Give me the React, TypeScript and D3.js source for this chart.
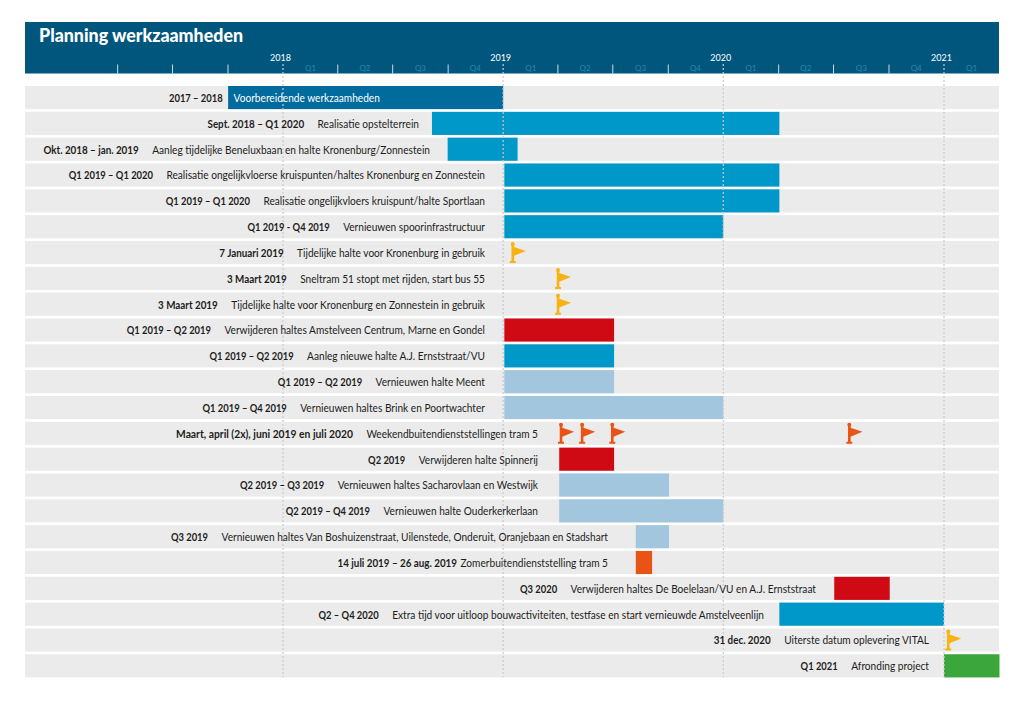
import React, { useRef, useEffect } from 'react';
import * as d3 from 'd3';

const WIDTH = 1023;
const HEIGHT = 704;
const FONT = "Lato, 'Noto Sans', sans-serif";

const title = 'Planning werkzaamheden';

const periods = [
  '2017 – 2018', 'Sept. 2018 – Q1 2020', 'Okt. 2018 – jan. 2019', 'Q1 2019 – Q1 2020', 'Q1 2019 – Q1 2020',
  'Q1 2019 - Q4 2019', '7 Januari 2019', '3 Maart 2019', '3 Maart 2019', 'Q1 2019 – Q2 2019',
  'Q1 2019 – Q2 2019', 'Q1 2019 – Q2 2019', 'Q1 2019 – Q4 2019', 'Maart, april (2x), juni 2019 en juli 2020', 'Q2 2019',
  'Q2 2019 – Q3 2019', 'Q2 2019 – Q4 2019', 'Q3 2019', '14 juli 2019 – 26 aug. 2019', 'Q3 2020',
  'Q2 – Q4 2020', '31 dec. 2020', 'Q1 2021',
];

const tasks = [
  'Voorbereidende werkzaamheden', 'Realisatie opstelterrein', 'Aanleg tijdelijke Beneluxbaan en halte Kronenburg/Zonnestein',
  'Realisatie ongelijkvloerse kruispunten/haltes Kronenburg en Zonnestein', 'Realisatie ongelijkvloers kruispunt/halte Sportlaan',
  'Vernieuwen spoorinfrastructuur', 'Tijdelijke halte voor Kronenburg in gebruik', 'Sneltram 51 stopt met rijden, start bus 55',
  'Tijdelijke halte voor Kronenburg en Zonnestein in gebruik', 'Verwijderen haltes Amstelveen Centrum, Marne en Gondel',
  'Aanleg nieuwe halte A.J. Ernststraat/VU', 'Vernieuwen halte Meent', 'Vernieuwen haltes Brink en Poortwachter',
  'Weekendbuitendienststellingen tram 5', 'Verwijderen halte Spinnerij', 'Vernieuwen haltes Sacharovlaan en Westwijk',
  'Vernieuwen halte Ouderkerkerlaan', 'Vernieuwen haltes Van Boshuizenstraat, Uilenstede, Onderuit, Oranjebaan en Stadshart',
  'Zomerbuitendienststelling tram 5', 'Verwijderen haltes De Boelelaan/VU en A.J. Ernststraat',
  'Extra tijd voor uitloop bouwactiviteiten, testfase en start vernieuwde Amstelveenlijn', 'Uiterste datum oplevering VITAL', 'Afronding project',
];

// right edge of the task text in each row, px
const taskEnds = [0, 419, 430, 485, 485, 485, 485, 485, 485, 485, 485, 485, 485, 538, 538, 538, 538, 608, 608, 816, 764, 929, 929];

// [row, start, end, colour kind]
const bars: [number, string, string, string][] = [
  [0, '2017-10-02', '2019-01-01', 'dark'],
  [1, '2018-09-05', '2020-04-03', 'blue'],
  [2, '2018-10-01', '2019-01-25', 'blue'],
  [3, '2019-01-03', '2020-04-03', 'blue'],
  [4, '2019-01-03', '2020-04-03', 'blue'],
  [5, '2019-01-03', '2020-01-01', 'blue'],
  [9, '2019-01-03', '2019-07-04', 'red'],
  [10, '2019-01-03', '2019-07-04', 'blue'],
  [11, '2019-01-03', '2019-07-04', 'light'],
  [12, '2019-01-03', '2020-01-01', 'light'],
  [14, '2019-04-04', '2019-07-04', 'red'],
  [15, '2019-04-04', '2019-10-03', 'light'],
  [16, '2019-04-04', '2020-01-01', 'light'],
  [17, '2019-08-09', '2019-10-03', 'light'],
  [18, '2019-08-09', '2019-09-05', 'orange'],
  [19, '2020-07-03', '2020-10-03', 'red'],
  [20, '2020-04-03', '2021-01-01', 'blue'],
  [22, '2021-01-01', '2021-04-03', 'green'],
];

// [row, date of the pole, colour kind]
const flags: [number, string, string][] = [
  [6, '2019-01-17', 'yellow'],
  [7, '2019-04-02', 'yellow'],
  [8, '2019-04-02', 'yellow'],
  [13, '2019-04-07', 'orange'],
  [13, '2019-05-12', 'orange'],
  [13, '2019-07-01', 'orange'],
  [13, '2020-07-28', 'orange'],
  [21, '2021-01-08', 'yellow'],
];

const yearTicks = ['2018-01-01', '2019-01-01', '2020-01-01', '2021-01-01'];
const quarterTicks = [
  '2017-04-01', '2017-07-01', '2017-10-01', '2018-04-01', '2018-07-01', '2018-10-01', '2019-04-01',
  '2019-07-01', '2019-10-01', '2020-04-01', '2020-07-01', '2020-10-01',
];
const quarterLabels = [
  ['2018-02-15', 'Q1'], ['2018-05-16', 'Q2'], ['2018-08-16', 'Q3'], ['2018-11-15', 'Q4'],
  ['2019-02-15', 'Q1'], ['2019-05-16', 'Q2'], ['2019-08-16', 'Q3'], ['2019-11-15', 'Q4'],
  ['2020-02-15', 'Q1'], ['2020-05-16', 'Q2'], ['2020-08-16', 'Q3'], ['2020-11-15', 'Q4'],
  ['2021-02-15', 'Q1'],
];

const colours: Record<string, string> = {
  dark: '#006b9c',
  blue: '#0097c9',
  light: '#a1c6dd',
  red: '#cf0a14',
  orange: '#e95316',
  green: '#3aa63c',
  yellow: '#f8b211',
};

// squeeze a text horizontally, the reference font is narrower than anything installed
const condense = (sel: d3.Selection<SVGTextElement, unknown, null, undefined>, factor: number) => {
  const w = (sel.node() as SVGTextElement).getComputedTextLength();
  sel.attr('textLength', w * factor).attr('lengthAdjust', 'spacingAndGlyphs');
  return w * factor;
};

const App: React.FC = () => {
  const svgRef = useRef<SVGSVGElement>(null);

  useEffect(() => {
    if (!svgRef.current) return;
    const svg = d3.select(svgRef.current);
    svg.selectAll('*').remove();
    svg.style('font-family', FONT);

    const x = d3.scaleTime()
      .domain([new Date('2018-01-01'), new Date('2021-01-01')])
      .range([283, 944]);
    const y = d3.scaleBand<number>()
      .domain(d3.range(periods.length))
      .range([86, 677.4])
      .paddingInner(0.105)
      .paddingOuter(0);

    // header
    svg.append('rect').attr('x', 25).attr('y', 22).attr('width', 974).attr('height', 51.5).attr('fill', '#00567d');
    const head = svg.append('text').attr('x', 39).attr('y', 42).attr('fill', '#fff')
      .attr('font-size', 19.5).attr('font-weight', 900).text(title);
    head.attr('textLength', 204).attr('lengthAdjust', 'spacingAndGlyphs');

    // row backgrounds
    svg.append('g').selectAll('rect').data(periods).enter().append('rect')
      .attr('x', 25).attr('width', 974)
      .attr('y', (_, i) => y(i)!)
      .attr('height', y.bandwidth())
      .attr('fill', '#ebebeb');

    // bars
    svg.append('g').selectAll('rect').data(bars).enter().append('rect')
      .attr('x', d => x(new Date(d[1])))
      .attr('width', d => x(new Date(d[2])) - x(new Date(d[1])))
      .attr('y', d => y(d[0])!)
      .attr('height', y.bandwidth())
      .attr('fill', d => colours[d[3]]);

    // axis ticks in the header
    const ticks = svg.append('g').attr('transform', 'translate(0,73.5)')
      .call(d3.axisTop(x).tickValues(quarterTicks.map(d => new Date(d))).tickSize(9).tickFormat(() => ''));
    ticks.select('.domain').remove();
    ticks.selectAll('line').attr('stroke', '#c9dbe5').attr('stroke-width', 1);

    const qAxis = svg.append('g').attr('transform', 'translate(0,73.5)')
      .call(d3.axisTop(x).tickValues(quarterLabels.map(d => new Date(d[0])))
        .tickSize(0)
        .tickFormat((_, i) => quarterLabels[i][1]));
    qAxis.select('.domain').remove();
    qAxis.selectAll('text').attr('fill', '#2a88b2').attr('font-size', 8).attr('font-family', FONT);

    const yAxis = svg.append('g').attr('transform', 'translate(-3,64)')
      .call(d3.axisTop(x).tickValues(yearTicks.map(d => new Date(d)))
        .tickSize(0)
        .tickFormat(d => String((d as Date).getUTCFullYear())));
    yAxis.select('.domain').remove();
    yAxis.selectAll('text').attr('fill', '#fff').attr('font-size', 9).attr('font-family', FONT);

    // dotted year lines
    svg.append('g').selectAll('line').data(yearTicks).enter().append('line')
      .attr('x1', d => x(new Date(d))).attr('x2', d => x(new Date(d)))
      .attr('y1', 64).attr('y2', 677)
      .attr('stroke', '#c6ccd0').attr('stroke-width', 1.2).attr('stroke-dasharray', '2 2');

    // flags
    const flag = svg.append('g').selectAll('g').data(flags).enter().append('g')
      .attr('transform', d => `translate(${x(new Date(d[1]))},${y(d[0])! + y.bandwidth() / 2})`)
      .attr('fill', d => colours[d[2]]);
    flag.append('path').attr('d', 'M-1.3,-7.5V8.5H-3V10.5H3V8.5H1.3V3.3L13,-1.5L1.3,-5.5V-7.5Z');
    flag.append('circle').attr('cy', -8.5).attr('r', 2);

    // labels
    const rows = svg.append('g').attr('font-size', 11.3);
    periods.forEach((period, i) => {
      const baseline = y(i)! + 16;
      const addPeriod = (end: number) => {
        const p = rows.append('text').attr('x', end).attr('y', baseline).attr('text-anchor', 'end')
          .attr('font-size', 10.8).attr('font-weight', 700).attr('fill', '#1d1d1b').text(period);
        // spelled-out dates run wider in the reference than the Q labels
        const factor = period.length > 30 ? 0.955 : /[a-z]/.test(period) ? 0.91 : 0.87;
        condense(p, factor);
      };
      if (i === 0) {
        const start = x(new Date(bars[0][1]));
        const t = rows.append('text').attr('x', start + 5.5).attr('y', baseline).attr('fill', '#fff').text(tasks[i]);
        condense(t, 0.896);
        addPeriod(start - 5.5);
        return;
      }
      const task = rows.append('text').attr('x', taskEnds[i]).attr('y', baseline).attr('text-anchor', 'end')
        .attr('fill', '#1d1d1b').text(tasks[i]);
      const w = condense(task, 0.896);
      const gap = i === 18 ? 3.5 : 13.5;
      addPeriod(taskEnds[i] - w - gap);
    });
  }, []);

  return (
    <svg ref={svgRef} width={WIDTH} height={HEIGHT}
      style={{ position: 'absolute', left: 0, top: 0, background: '#fff' }}></svg>
  );
};

export default App;
